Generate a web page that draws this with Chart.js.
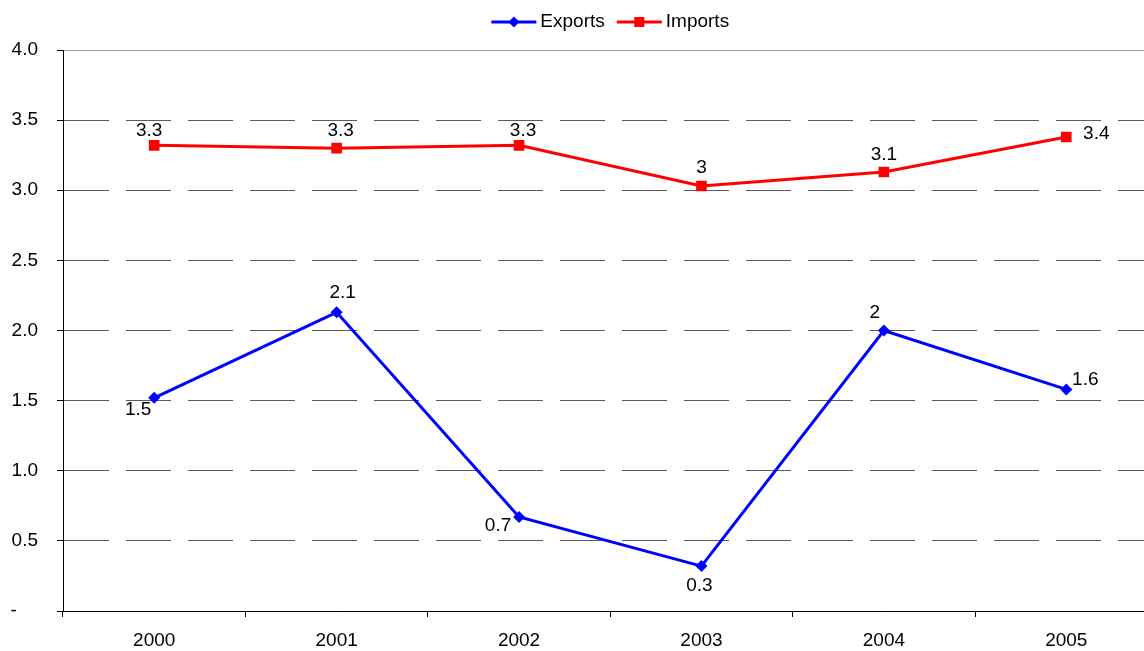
<!DOCTYPE html>
<html>
<head>
<meta charset="utf-8">
<script src="https://cdn.jsdelivr.net/npm/chart.js@4/dist/chart.umd.min.js"></script>
<style>
  html, body { margin: 0; padding: 0; background: #fff; overflow: hidden; }
  #wrap { width: 1165px; height: 651px; }
</style>
</head>
<body>
<div id="wrap"><canvas id="tradeChart" width="1165" height="651"></canvas></div>
<script>
// Chart values
const years = ["2000", "2001", "2002", "2003", "2004", "2005"];
const exportsData = [1.52, 2.13, 0.67, 0.32, 2.0, 1.58];
const importsData = [3.32, 3.30, 3.32, 3.03, 3.13, 3.38];
const yTicks = [0, 0.5, 1.0, 1.5, 2.0, 2.5, 3.0, 3.5, 4.0];

// where each value label sits relative to its point (dx, dy in px)
const exportsLabelOffsets = [[-16, 12], [6, -20], [-21, 9], [-2, 20], [-9, -18], [19, -10]];
const importsLabelOffsets = [[-5, -15], [4, -17], [4, -15], [0, -18], [0, -17], [30, -3]];

const FONT = '"Liberation Sans", Arial, sans-serif';

// value labels next to each point
const valueLabels = {
  id: "valueLabels",
  afterDatasetsDraw(chart) {
    const ctx = chart.ctx;
    ctx.save();
    ctx.font = "19px " + FONT;
    ctx.fillStyle = "#000";
    ctx.textAlign = "center";
    ctx.textBaseline = "middle";
    chart.data.datasets.forEach((ds, i) => {
      const meta = chart.getDatasetMeta(i);
      meta.data.forEach((pt, j) => {
        const off = ds.labelOffsets[j];
        const txt = String(Number(ds.data[j].toFixed(1)));
        ctx.fillText(txt, pt.x + off[0], pt.y + off[1]);
      });
    });
    ctx.restore();
  }
};

// legend drawn over the plot centre (like the original)
const topLegend = {
  id: "topLegend",
  afterDraw(chart) {
    const ctx = chart.ctx;
    const area = chart.chartArea;
    ctx.save();
    ctx.font = "19px " + FONT;
    const lineLen = 45, gap = 4, itemGap = 12;
    const items = chart.data.datasets;
    let total = 0;
    items.forEach((ds, i) => {
      total += lineLen + gap + ctx.measureText(ds.label).width;
      if (i < items.length - 1) total += itemGap;
    });
    let x = (area.left + area.right) / 2 - total / 2;
    const y = 22;
    items.forEach(ds => {
      ctx.strokeStyle = ds.borderColor;
      ctx.lineWidth = 3;
      ctx.beginPath();
      ctx.moveTo(x, y);
      ctx.lineTo(x + lineLen, y);
      ctx.stroke();
      const cx = x + lineLen / 2;
      ctx.fillStyle = ds.borderColor;
      ctx.beginPath();
      if (ds.pointStyle === "rectRot") {
        ctx.moveTo(cx, y - 5.5);
        ctx.lineTo(cx + 5.5, y);
        ctx.lineTo(cx, y + 5.5);
        ctx.lineTo(cx - 5.5, y);
        ctx.closePath();
      } else {
        ctx.rect(cx - 5, y - 5, 10, 10);
      }
      ctx.fill();
      x += lineLen + gap;
      ctx.fillStyle = "#000";
      ctx.textAlign = "left";
      ctx.textBaseline = "middle";
      ctx.fillText(ds.label, x, y);
      x += ctx.measureText(ds.label).width + itemGap;
    });
    ctx.restore();
  }
};

new Chart(document.getElementById("tradeChart"), {
  type: "line",
  data: {
    labels: years,
    datasets: [
      {
        label: "Exports",
        data: exportsData,
        labelOffsets: exportsLabelOffsets,
        borderColor: "#0000ff",
        backgroundColor: "#0000ff",
        borderWidth: 3,
        pointStyle: "rectRot",
        pointRadius: 6,
        pointHoverRadius: 6,
        pointBorderWidth: 0,
        tension: 0
      },
      {
        label: "Imports",
        data: importsData,
        labelOffsets: importsLabelOffsets,
        borderColor: "#ff0000",
        backgroundColor: "#ff0000",
        borderWidth: 3,
        pointStyle: "rect",
        pointRadius: 7.5,
        pointHoverRadius: 7.5,
        pointBorderWidth: 0,
        tension: 0
      }
    ]
  },
  options: {
    responsive: false,
    animation: false,
    layout: { padding: { top: 50, right: 5, left: 0, bottom: 0 } },
    plugins: {
      legend: { display: false },
      tooltip: { enabled: false }
    },
    scales: {
      x: {
        offset: true,
        grid: {
          offset: true,
          drawOnChartArea: false,
          tickLength: 6,
          tickColor: "#000"
        },
        border: { color: "#000", width: 1 },
        ticks: {
          color: "#000",
          font: { family: FONT, size: 19 },
          padding: 12,
          maxRotation: 0
        },
        afterFit(scale) { scale.height = 40; }
      },
      y: {
        min: 0,
        max: 4,
        afterBuildTicks(scale) {
          scale.ticks = yTicks.map(v => ({ value: v }));
        },
        grid: {
          color: ctx => (ctx.tick && ctx.tick.value === 4 ? "#999" : "#5a5a5a"),
          lineWidth: 1,
          tickLength: 6,
          tickColor: "#000"
        },
        border: {
          color: "#000",
          width: 1,
          dash: ctx => (ctx.tick && ctx.tick.value === 4 ? [] : [45, 17])
        },
        ticks: {
          color: "#000",
          font: { family: FONT, size: 19 },
          padding: 19,
          callback: v => (v === 0 ? "-    " : Number(v).toFixed(1))
        },
        afterFit(scale) { scale.width = 63; }
      }
    }
  },
  plugins: [valueLabels, topLegend]
});
</script>
</body>
</html>
